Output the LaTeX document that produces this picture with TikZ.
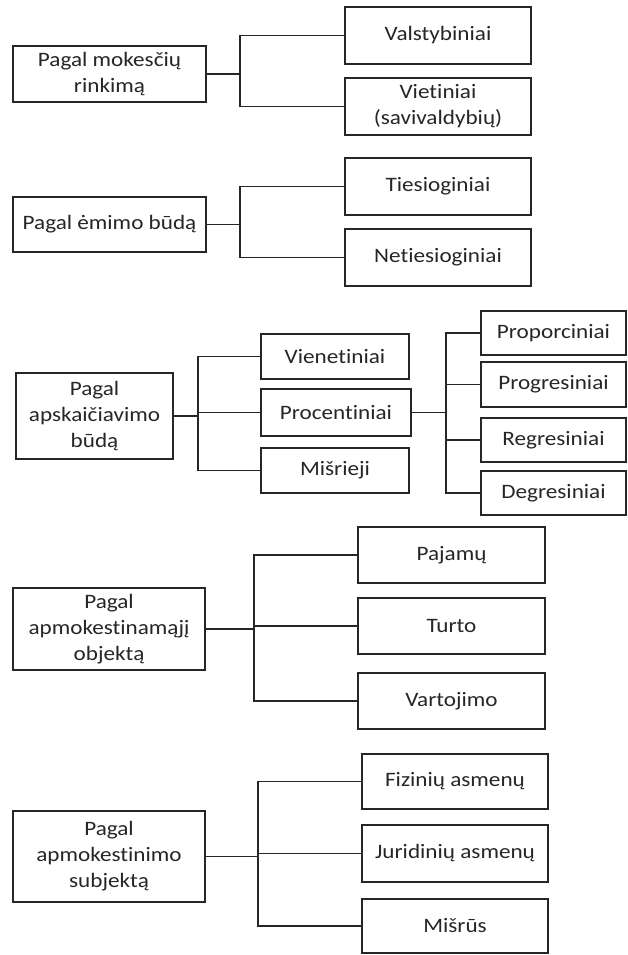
\documentclass[tikz,border=0pt]{standalone}
\usepackage{fontspec}
\setmainfont{Carlito}[FakeStretch=1.13,Ligatures={NoCommon}]
\begin{document}
\begin{tikzpicture}[x=1pt,y=-1pt,
  box/.style={draw=black!85, line width=1.1pt, inner sep=0pt, align=center,
    font=\fontsize{20.5}{26}\selectfont, text=black!85},
  conn/.style={draw=black!85, line width=1.1pt}]
\useasboundingbox[fill=white] (0,0) rectangle (627,955);
% Group 1
\node[box, minimum width=193pt, minimum height=56pt] (r1) at (109.5,74) {Pagal mokesčių\\rinkimą};
\node[box, minimum width=186pt, minimum height=57pt] (v1) at (438,35.5) {Valstybiniai};
\node[box, minimum width=186pt, minimum height=57pt] (v2) at (438,106.5) {Vietiniai\\(savivaldybių)};
\coordinate (b1) at (240,74);
\draw[conn] (r1.east) -- (r1.east -| b1);
\draw[conn] (v1.west) -- (v1.west -| b1) -- (v2.west -| b1) -- (v2.west);
% Group 2
\node[box, minimum width=193pt, minimum height=55pt] (r2) at (109.5,224.5) {Pagal ėmimo būdą};
\node[box, minimum width=186pt, minimum height=57pt] (t1) at (438,186.5) {Tiesioginiai};
\node[box, minimum width=186pt, minimum height=57pt] (t2) at (438,257.5) {Netiesioginiai};
\coordinate (b2) at (240,224.5);
\draw[conn] (r2.east) -- (r2.east -| b2);
\draw[conn] (t1.west) -- (t1.west -| b2) -- (t2.west -| b2) -- (t2.west);
% Group 3
\node[box, minimum width=157pt, minimum height=86pt] (r3) at (94.5,416) {Pagal\\apskaičiavimo\\būdą};
\node[box, minimum width=148pt, minimum height=45pt] (a1) at (335,356.5) {Vienetiniai};
\node[box, minimum width=150pt, minimum height=47pt] (a2) at (336,412.5) {Procentiniai};
\node[box, minimum width=148pt, minimum height=45pt] (a3) at (335,470.5) {Mišrieji};
\coordinate (b3) at (198,416);
\draw[conn] (r3.east) -- (r3.east -| b3);
\draw[conn] (a1.west) -- (a1.west -| b3) -- (a3.west -| b3) -- (a3.west);
\draw[conn] (a2.west) -- (a2.west -| b3);
\node[box, minimum width=145pt, minimum height=44pt] (p1) at (553.5,333) {Proporciniai};
\node[box, minimum width=145pt, minimum height=45pt] (p2) at (553.5,384.5) {Progresiniai};
\node[box, minimum width=145pt, minimum height=44pt] (p3) at (553.5,440) {Regresiniai};
\node[box, minimum width=145pt, minimum height=44pt] (p4) at (553.5,493) {Degresiniai};
\coordinate (b4) at (446,413);
\draw[conn] (a2.east) -- (a2.east -| b4);
\draw[conn] (p1.west) -- (p1.west -| b4) -- (p4.west -| b4) -- (p4.west);
\draw[conn] (p2.west) -- (p2.west -| b4);
\draw[conn] (p3.west) -- (p3.west -| b4);
% Group 4
\node[box, minimum width=192pt, minimum height=82pt] (r4) at (109,629) {Pagal\\apmokestinamąjį\\objektą};
\node[box, minimum width=187pt, minimum height=56pt] (o1) at (451.5,555) {Pajamų};
\node[box, minimum width=187pt, minimum height=56pt] (o2) at (451.5,626) {Turto};
\node[box, minimum width=187pt, minimum height=56pt] (o3) at (451.5,701) {Vartojimo};
\coordinate (b5) at (254,629);
\draw[conn] (r4.east) -- (r4.east -| b5);
\draw[conn] (o1.west) -- (o1.west -| b5) -- (o3.west -| b5) -- (o3.west);
\draw[conn] (o2.west) -- (o2.west -| b5);
% Group 5
\node[box, minimum width=192pt, minimum height=91pt] (r5) at (109,856.5) {Pagal\\apmokestinimo\\subjektą};
\node[box, minimum width=186pt, minimum height=55pt] (s1) at (455,781.5) {Fizinių asmenų};
\node[box, minimum width=186pt, minimum height=57pt] (s2) at (455,853.5) {Juridinių asmenų};
\node[box, minimum width=186pt, minimum height=54pt] (s3) at (455,926) {Mišrūs};
\coordinate (b6) at (258,857);
\draw[conn] (r5.east) -- (r5.east -| b6);
\draw[conn] (s1.west) -- (s1.west -| b6) -- (s3.west -| b6) -- (s3.west);
\draw[conn] (s2.west) -- (s2.west -| b6);
\end{tikzpicture}
\end{document}
